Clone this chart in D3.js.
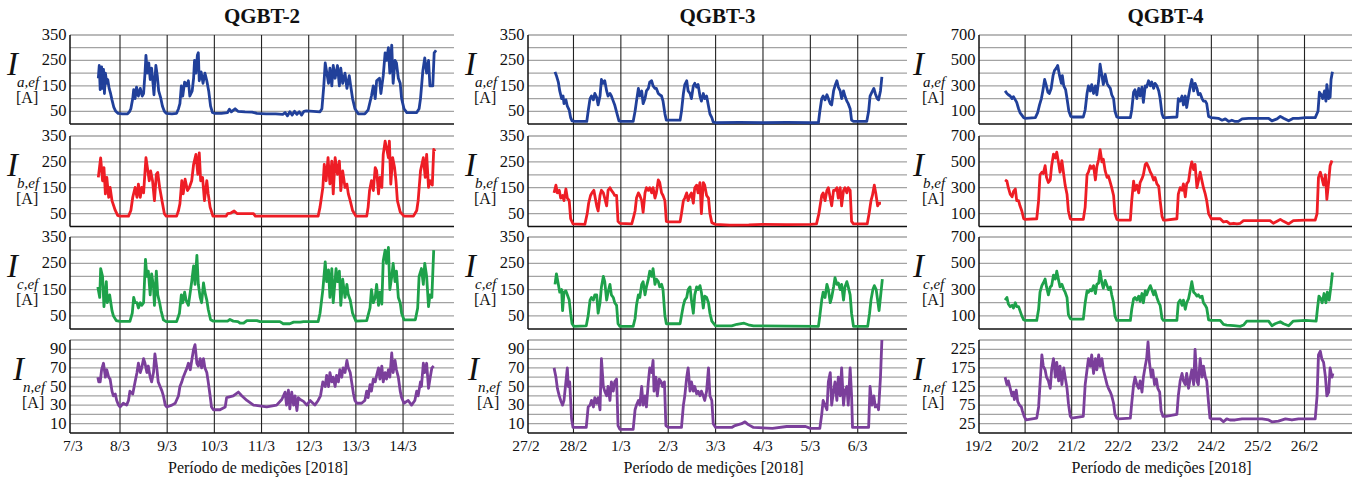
<!DOCTYPE html>
<html><head><meta charset="utf-8">
<script src="https://cdn.jsdelivr.net/npm/d3@7"></script>
<style>
body{margin:0;background:#fff}
svg{display:block}
text{font-family:"Liberation Serif","Times New Roman",serif;fill:#111}
</style>
</head><body>
<svg id="c" width="1363" height="481"></svg>
<script>
// ---------------- categories / tick labels ----------------
const titles = ["QGBT-2", "QGBT-3", "QGBT-4"];
const dates2 = ["7/3","8/3","9/3","10/3","11/3","12/3","13/3","14/3"];
const dates3 = ["27/2","28/2","1/3","2/3","3/3","4/3","5/3","6/3"];
const dates4 = ["19/2","20/2","21/2","22/2","23/2","24/2","25/2","26/2"];
const ticks350 = [50,150,250,350];
const ticks700 = [100,300,500,700];
const ticksIn100 = [10,30,50,70,90];
const ticksIn250 = [25,75,125,175,225];
const phaseNames = ["a","b","c","n"];
const xTitle = "Período de medições [2018]";

// ---------------- series: [day since first label, current A] ----------------
const qgbt2Ia = [[0.54,180],[0.56,230],[0.58,135],[0.61,225],[0.63,140],[0.65,215],[0.67,120],[0.69,200],[0.72,160],[0.74,175],[0.77,140],[0.80,120],[0.83,95],[0.87,65],[0.91,50],[0.96,42],[1.05,40],[1.16,40],[1.20,48],[1.23,60],[1.27,100],[1.29,135],[1.32,100],[1.35,145],[1.39,110],[1.43,140],[1.47,110],[1.50,120],[1.53,200],[1.55,270],[1.58,200],[1.61,240],[1.64,175],[1.67,220],[1.70,160],[1.72,115],[1.76,230],[1.79,190],[1.82,130],[1.86,105],[1.90,70],[1.94,50],[1.98,42],[2.10,40],[2.20,42],[2.24,60],[2.27,80],[2.30,150],[2.33,110],[2.37,165],[2.41,150],[2.45,170],[2.48,110],[2.53,130],[2.56,180],[2.58,250],[2.61,200],[2.64,270],[2.66,280],[2.68,170],[2.72,205],[2.76,160],[2.80,200],[2.84,170],[2.88,130],[2.92,70],[2.96,45],[3.00,42],[3.15,42],[3.28,45],[3.32,58],[3.36,48],[3.44,60],[3.50,50],[3.65,48],[3.80,47],[3.90,42],[4.10,40],[4.30,40],[4.45,38],[4.50,45],[4.55,32],[4.60,48],[4.65,35],[4.70,50],[4.75,38],[4.80,48],[4.85,35],[4.90,50],[4.95,52],[5.10,50],[5.24,48],[5.28,60],[5.32,150],[5.35,240],[5.42,160],[5.45,220],[5.49,150],[5.52,230],[5.56,180],[5.61,230],[5.65,150],[5.68,220],[5.72,160],[5.77,200],[5.81,140],[5.86,190],[5.89,150],[5.93,100],[5.98,60],[6.05,40],[6.19,40],[6.26,55],[6.33,110],[6.37,150],[6.41,100],[6.44,170],[6.50,180],[6.53,120],[6.58,190],[6.62,280],[6.65,250],[6.69,300],[6.72,200],[6.76,310],[6.79,160],[6.83,250],[6.86,240],[6.90,180],[6.94,160],[6.97,100],[7.02,60],[7.08,45],[7.29,45],[7.34,60],[7.37,100],[7.42,210],[7.46,260],[7.50,200],[7.54,250],[7.57,150],[7.63,150],[7.66,280],[7.70,290]];
const qgbt2Ib = [[0.54,190],[0.59,265],[0.63,177],[0.66,228],[0.69,126],[0.72,190],[0.76,113],[0.79,151],[0.83,100],[0.90,62],[0.95,43],[1.00,40],[1.18,40],[1.23,62],[1.27,113],[1.32,151],[1.36,113],[1.39,164],[1.43,113],[1.46,151],[1.50,130],[1.55,266],[1.58,228],[1.62,177],[1.65,215],[1.69,177],[1.73,100],[1.77,202],[1.80,209],[1.84,151],[1.89,100],[1.94,50],[1.98,40],[2.20,40],[2.24,62],[2.27,88],[2.31,177],[2.34,126],[2.38,183],[2.43,139],[2.47,151],[2.52,177],[2.56,240],[2.61,279],[2.65,202],[2.68,285],[2.71,177],[2.75,190],[2.79,100],[2.84,177],[2.87,126],[2.91,75],[2.97,40],[3.25,40],[3.28,50],[3.35,52],[3.42,60],[3.48,50],[3.83,50],[3.87,40],[5.20,40],[5.24,75],[5.30,151],[5.33,240],[5.37,177],[5.41,266],[5.45,165],[5.49,253],[5.52,126],[5.56,266],[5.61,202],[5.65,253],[5.68,139],[5.72,215],[5.77,151],[5.81,164],[5.84,126],[5.88,100],[5.93,62],[6.00,40],[6.23,40],[6.26,75],[6.29,139],[6.33,177],[6.37,139],[6.41,228],[6.44,215],[6.48,126],[6.51,190],[6.55,151],[6.58,279],[6.62,330],[6.65,304],[6.69,266],[6.71,330],[6.74,164],[6.78,266],[6.82,228],[6.85,177],[6.88,100],[6.94,56],[7.02,40],[7.22,40],[7.29,62],[7.32,100],[7.37,215],[7.43,266],[7.47,190],[7.50,279],[7.54,151],[7.57,177],[7.62,160],[7.65,298],[7.68,291]];
const qgbt2Ic = [[0.53,160],[0.57,120],[0.59,230],[0.63,200],[0.66,85],[0.71,180],[0.73,100],[0.78,130],[0.83,70],[0.86,50],[0.92,32],[1.00,29],[1.21,29],[1.26,60],[1.29,120],[1.32,100],[1.36,100],[1.39,80],[1.43,100],[1.46,90],[1.50,100],[1.54,265],[1.57,200],[1.60,220],[1.64,130],[1.67,210],[1.71,160],[1.73,90],[1.77,220],[1.80,130],[1.84,100],[1.87,70],[1.92,35],[1.98,28],[2.20,28],[2.26,60],[2.30,130],[2.33,100],[2.37,140],[2.40,110],[2.45,90],[2.52,180],[2.56,240],[2.59,170],[2.63,280],[2.66,170],[2.70,120],[2.73,100],[2.77,175],[2.80,140],[2.84,110],[2.87,75],[2.92,35],[2.98,30],[3.28,30],[3.33,36],[3.40,30],[3.50,28],[3.55,22],[3.62,22],[3.69,32],[3.90,32],[3.97,28],[4.39,28],[4.46,20],[4.60,20],[4.68,26],[4.82,26],[4.89,28],[5.20,28],[5.24,60],[5.30,150],[5.35,255],[5.38,180],[5.42,225],[5.45,120],[5.49,230],[5.52,100],[5.58,230],[5.61,180],[5.65,220],[5.68,90],[5.72,190],[5.77,120],[5.81,170],[5.84,130],[5.88,110],[5.93,60],[6.00,30],[6.23,32],[6.30,80],[6.33,150],[6.37,100],[6.41,120],[6.44,170],[6.48,90],[6.51,140],[6.55,95],[6.58,260],[6.62,300],[6.65,250],[6.69,310],[6.72,150],[6.76,200],[6.79,250],[6.83,180],[6.86,220],[6.90,120],[6.94,100],[6.97,60],[7.02,35],[7.26,35],[7.31,80],[7.34,200],[7.39,230],[7.43,170],[7.46,250],[7.50,200],[7.54,85],[7.57,130],[7.61,120],[7.65,300]];
const qgbt2In = [[0.53,60],[0.55,55],[0.58,55],[0.61,68],[0.65,75],[0.69,60],[0.72,68],[0.76,60],[0.79,58],[0.83,45],[0.86,40],[0.90,42],[0.93,35],[0.97,30],[1.00,28],[1.07,32],[1.14,30],[1.18,35],[1.21,45],[1.27,42],[1.32,55],[1.36,65],[1.39,75],[1.43,65],[1.46,70],[1.50,80],[1.53,75],[1.57,65],[1.60,72],[1.64,60],[1.67,55],[1.71,65],[1.74,85],[1.78,70],[1.81,55],[1.85,50],[1.89,45],[1.92,40],[1.96,30],[1.99,28],[2.10,30],[2.17,32],[2.24,40],[2.27,50],[2.31,55],[2.34,60],[2.38,65],[2.42,70],[2.45,75],[2.49,68],[2.52,78],[2.56,90],[2.59,95],[2.63,75],[2.66,72],[2.70,80],[2.73,70],[2.77,80],[2.80,70],[2.84,65],[2.87,55],[2.91,40],[2.94,28],[2.98,25],[3.12,25],[3.23,28],[3.26,38],[3.40,40],[3.51,44],[3.58,40],[3.69,35],[3.83,30],[4.11,28],[4.32,30],[4.43,36],[4.50,44],[4.53,30],[4.57,46],[4.60,26],[4.64,44],[4.68,30],[4.71,40],[4.75,24],[4.78,38],[4.82,36],[4.89,34],[4.96,30],[5.03,35],[5.13,30],[5.20,35],[5.25,40],[5.30,55],[5.35,50],[5.38,62],[5.42,50],[5.45,65],[5.49,55],[5.52,60],[5.56,50],[5.59,62],[5.63,55],[5.66,68],[5.70,60],[5.73,70],[5.77,65],[5.81,78],[5.84,70],[5.88,65],[5.91,55],[5.95,42],[5.98,35],[6.02,32],[6.12,32],[6.19,35],[6.23,45],[6.26,38],[6.30,52],[6.33,45],[6.37,58],[6.41,55],[6.44,62],[6.48,70],[6.51,58],[6.55,72],[6.58,55],[6.62,65],[6.65,58],[6.69,68],[6.72,60],[6.76,86],[6.79,65],[6.83,78],[6.86,68],[6.90,60],[6.94,45],[6.97,38],[7.02,32],[7.11,35],[7.18,30],[7.25,35],[7.29,45],[7.32,40],[7.37,55],[7.39,50],[7.43,75],[7.46,65],[7.50,75],[7.54,48],[7.57,58],[7.61,70],[7.65,72]];

const qgbt3Ia = [[0.61,205],[0.64,190],[0.68,165],[0.71,130],[0.75,100],[0.78,110],[0.80,80],[0.84,95],[0.87,70],[0.91,55],[0.94,25],[0.97,12],[1.03,10],[1.28,10],[1.31,50],[1.35,100],[1.38,110],[1.42,95],[1.45,120],[1.49,105],[1.52,75],[1.56,110],[1.59,175],[1.63,160],[1.66,170],[1.70,130],[1.73,110],[1.77,120],[1.80,110],[1.84,90],[1.87,75],[1.92,40],[1.96,12],[2.00,10],[2.26,10],[2.30,50],[2.33,90],[2.37,140],[2.40,110],[2.44,130],[2.47,80],[2.51,100],[2.54,130],[2.58,140],[2.61,165],[2.65,170],[2.68,150],[2.72,140],[2.75,140],[2.79,120],[2.82,115],[2.86,110],[2.89,90],[2.93,40],[2.96,15],[3.00,15],[3.25,15],[3.28,50],[3.32,120],[3.35,155],[3.39,170],[3.42,130],[3.46,120],[3.49,100],[3.53,150],[3.56,160],[3.60,145],[3.63,155],[3.67,110],[3.70,90],[3.74,120],[3.77,100],[3.81,110],[3.85,70],[3.88,40],[3.92,25],[3.95,8],[4.00,5],[4.50,6],[5.00,5],[5.50,6],[6.00,5],[6.17,5],[6.20,50],[6.24,100],[6.27,110],[6.31,95],[6.35,115],[6.38,100],[6.42,80],[6.45,75],[6.49,130],[6.52,150],[6.56,170],[6.59,145],[6.63,130],[6.66,100],[6.70,130],[6.73,110],[6.77,90],[6.80,80],[6.84,60],[6.87,15],[6.91,10],[7.19,10],[7.23,50],[7.26,110],[7.30,125],[7.34,140],[7.37,120],[7.41,100],[7.44,95],[7.48,130],[7.51,185]];
const qgbt3Ib = [[0.59,130],[0.63,160],[0.66,130],[0.70,140],[0.73,110],[0.77,120],[0.80,100],[0.84,145],[0.87,110],[0.91,100],[0.94,30],[0.99,10],[1.24,8],[1.29,50],[1.32,90],[1.36,120],[1.39,130],[1.43,140],[1.45,120],[1.49,80],[1.52,60],[1.56,120],[1.59,140],[1.63,130],[1.66,110],[1.70,80],[1.73,140],[1.77,150],[1.80,140],[1.84,130],[1.87,120],[1.91,120],[1.94,20],[1.98,12],[2.23,10],[2.26,30],[2.30,60],[2.33,110],[2.37,130],[2.40,120],[2.44,100],[2.47,55],[2.51,130],[2.54,150],[2.58,140],[2.61,150],[2.65,130],[2.68,150],[2.72,110],[2.75,130],[2.79,180],[2.82,170],[2.86,130],[2.89,120],[2.93,100],[2.96,20],[3.00,18],[3.25,18],[3.28,50],[3.32,100],[3.35,110],[3.39,130],[3.42,100],[3.46,120],[3.49,130],[3.53,90],[3.56,150],[3.60,160],[3.63,130],[3.67,170],[3.70,50],[3.74,170],[3.77,160],[3.81,120],[3.85,110],[3.88,50],[3.92,15],[4.00,8],[4.30,5],[4.70,6],[5.00,8],[5.50,7],[6.00,8],[6.13,10],[6.18,50],[6.24,120],[6.27,130],[6.31,100],[6.35,140],[6.38,150],[6.42,110],[6.45,80],[6.49,140],[6.52,140],[6.56,150],[6.59,110],[6.63,150],[6.66,80],[6.70,140],[6.73,150],[6.77,130],[6.80,150],[6.84,140],[6.87,20],[6.91,10],[7.20,10],[7.24,50],[7.28,100],[7.31,120],[7.35,160],[7.38,130],[7.42,80],[7.45,90],[7.49,90]];
const qgbt3Ic = [[0.61,170],[0.64,210],[0.68,170],[0.71,140],[0.75,150],[0.77,70],[0.80,140],[0.84,145],[0.87,130],[0.91,110],[0.94,60],[0.97,20],[1.01,10],[1.27,12],[1.31,50],[1.35,110],[1.38,120],[1.42,110],[1.45,130],[1.49,130],[1.52,60],[1.56,100],[1.59,160],[1.63,200],[1.66,180],[1.70,110],[1.73,140],[1.77,170],[1.80,130],[1.84,120],[1.87,100],[1.91,90],[1.94,20],[1.98,10],[2.26,10],[2.30,40],[2.33,90],[2.37,130],[2.40,120],[2.44,170],[2.47,180],[2.51,130],[2.54,160],[2.58,190],[2.61,220],[2.65,200],[2.68,230],[2.72,170],[2.75,190],[2.79,180],[2.82,160],[2.86,170],[2.89,150],[2.93,50],[2.96,20],[3.00,20],[3.25,20],[3.28,50],[3.32,90],[3.35,110],[3.39,120],[3.42,150],[3.46,160],[3.49,110],[3.53,60],[3.56,130],[3.60,160],[3.63,150],[3.67,165],[3.70,140],[3.74,80],[3.77,125],[3.81,120],[3.85,100],[3.88,60],[3.92,30],[4.00,12],[4.34,12],[4.45,18],[4.60,22],[4.69,16],[4.80,12],[5.50,11],[6.17,10],[6.20,50],[6.24,110],[6.27,140],[6.31,120],[6.35,170],[6.38,150],[6.42,100],[6.45,120],[6.49,160],[6.52,195],[6.56,170],[6.59,175],[6.63,150],[6.66,170],[6.70,110],[6.73,160],[6.77,180],[6.80,160],[6.84,130],[6.87,60],[6.91,10],[7.21,10],[7.25,60],[7.28,110],[7.32,150],[7.35,165],[7.39,150],[7.42,110],[7.45,70],[7.48,120],[7.52,190]];
const qgbt3In = [[0.59,70],[0.63,60],[0.66,48],[0.70,40],[0.73,35],[0.77,30],[0.80,35],[0.84,55],[0.87,70],[0.89,50],[0.92,55],[0.94,35],[0.96,15],[0.99,6],[1.27,6],[1.31,28],[1.35,30],[1.38,35],[1.42,28],[1.45,38],[1.49,32],[1.52,38],[1.56,25],[1.59,80],[1.63,50],[1.66,45],[1.70,40],[1.73,50],[1.77,35],[1.80,55],[1.84,45],[1.87,55],[1.91,58],[1.94,8],[1.98,4],[2.26,4],[2.30,25],[2.33,30],[2.37,35],[2.40,30],[2.44,50],[2.47,30],[2.51,40],[2.54,28],[2.58,55],[2.61,70],[2.65,65],[2.68,78],[2.70,45],[2.74,60],[2.77,40],[2.81,58],[2.85,55],[2.88,50],[2.92,55],[2.95,8],[3.00,6],[3.28,6],[3.32,30],[3.35,40],[3.39,60],[3.42,70],[3.46,45],[3.49,55],[3.53,45],[3.56,50],[3.60,42],[3.63,45],[3.67,40],[3.70,45],[3.74,40],[3.77,35],[3.81,45],[3.85,70],[3.88,40],[3.92,35],[3.95,10],[4.00,6],[4.34,6],[4.41,8],[4.55,10],[4.62,12],[4.69,9],[4.80,6],[5.20,5],[5.50,7],[5.90,7],[6.00,5],[6.20,5],[6.24,20],[6.27,35],[6.31,30],[6.35,25],[6.38,55],[6.42,65],[6.45,30],[6.49,45],[6.52,55],[6.56,35],[6.59,60],[6.63,40],[6.66,70],[6.70,30],[6.73,45],[6.77,50],[6.80,30],[6.84,70],[6.87,40],[6.89,6],[7.23,6],[7.26,50],[7.30,30],[7.34,40],[7.37,28],[7.41,30],[7.44,25],[7.48,60],[7.51,100]];

const qgbt4Ia = [[0.57,260],[0.61,240],[0.64,230],[0.68,220],[0.72,200],[0.75,215],[0.79,190],[0.82,170],[0.86,120],[0.89,90],[0.93,70],[0.97,50],[1.00,45],[1.22,50],[1.27,90],[1.31,150],[1.35,200],[1.38,260],[1.42,350],[1.45,310],[1.49,250],[1.52,240],[1.56,280],[1.60,380],[1.63,420],[1.67,440],[1.70,460],[1.74,380],[1.78,320],[1.80,380],[1.83,300],[1.87,270],[1.90,200],[1.94,100],[1.98,60],[2.02,55],[2.25,55],[2.29,110],[2.33,240],[2.36,300],[2.40,260],[2.43,310],[2.47,240],[2.51,300],[2.54,230],[2.58,340],[2.61,470],[2.65,380],[2.68,310],[2.72,390],[2.76,320],[2.79,300],[2.83,280],[2.86,230],[2.90,200],[2.93,100],[2.97,55],[3.01,50],[3.26,50],[3.29,110],[3.33,250],[3.36,270],[3.40,200],[3.44,280],[3.47,220],[3.51,290],[3.54,170],[3.58,300],[3.61,290],[3.65,340],[3.69,300],[3.72,330],[3.76,280],[3.79,320],[3.83,300],[3.87,260],[3.90,200],[3.94,80],[3.97,50],[4.02,50],[4.26,55],[4.29,200],[4.33,180],[4.37,220],[4.40,150],[4.44,220],[4.47,130],[4.51,220],[4.55,300],[4.58,350],[4.62,260],[4.65,320],[4.69,280],[4.72,230],[4.76,240],[4.80,200],[4.83,180],[4.87,180],[4.90,160],[4.94,60],[5.00,50],[5.15,45],[5.23,30],[5.30,40],[5.37,20],[5.44,30],[5.51,20],[5.58,20],[5.66,40],[5.80,45],[6.01,45],[6.23,45],[6.30,25],[6.41,40],[6.48,60],[6.55,45],[6.66,25],[6.76,45],[6.87,45],[7.02,50],[7.23,50],[7.29,100],[7.32,250],[7.36,230],[7.39,200],[7.43,260],[7.46,180],[7.48,310],[7.52,200],[7.55,210],[7.57,350],[7.60,410]];
const qgbt4Ib = [[0.57,360],[0.61,350],[0.64,300],[0.68,250],[0.72,230],[0.75,270],[0.79,290],[0.82,200],[0.86,200],[0.89,160],[0.93,120],[0.97,60],[1.00,55],[1.25,60],[1.29,200],[1.32,400],[1.36,420],[1.39,410],[1.43,470],[1.46,380],[1.50,340],[1.54,360],[1.57,470],[1.61,560],[1.65,530],[1.68,575],[1.72,490],[1.75,420],[1.79,510],[1.83,400],[1.86,320],[1.90,250],[1.93,120],[1.97,60],[2.00,55],[2.25,55],[2.29,150],[2.33,400],[2.36,420],[2.40,470],[2.43,450],[2.47,470],[2.51,360],[2.54,460],[2.58,520],[2.61,595],[2.65,500],[2.68,520],[2.72,430],[2.76,380],[2.79,390],[2.83,340],[2.86,300],[2.90,240],[2.93,100],[2.97,55],[3.01,50],[3.26,50],[3.29,200],[3.33,350],[3.36,280],[3.40,320],[3.44,260],[3.47,340],[3.51,370],[3.54,400],[3.58,480],[3.61,490],[3.65,460],[3.69,420],[3.72,400],[3.76,360],[3.79,380],[3.83,330],[3.87,310],[3.90,200],[3.94,80],[3.97,50],[4.02,50],[4.26,60],[4.29,250],[4.33,300],[4.37,280],[4.40,330],[4.44,230],[4.47,330],[4.51,350],[4.55,450],[4.58,500],[4.62,440],[4.65,480],[4.69,300],[4.72,350],[4.76,420],[4.80,350],[4.83,300],[4.87,250],[4.90,200],[4.94,100],[5.00,60],[5.19,60],[5.26,35],[5.33,40],[5.40,20],[5.48,25],[5.55,20],[5.62,25],[5.69,45],[6.01,45],[6.26,45],[6.33,25],[6.43,45],[6.48,55],[6.55,40],[6.66,20],[6.76,45],[7.02,50],[7.23,50],[7.27,100],[7.30,380],[7.34,420],[7.37,380],[7.41,320],[7.45,400],[7.48,210],[7.52,350],[7.55,470],[7.59,510]];
const qgbt4Ic = [[0.57,220],[0.61,240],[0.64,190],[0.68,170],[0.72,180],[0.75,160],[0.79,200],[0.82,170],[0.86,170],[0.89,140],[0.93,100],[0.97,70],[1.00,65],[1.25,65],[1.29,150],[1.32,280],[1.36,330],[1.39,350],[1.43,380],[1.46,320],[1.50,260],[1.54,320],[1.57,330],[1.61,410],[1.65,380],[1.68,440],[1.72,370],[1.75,320],[1.79,340],[1.83,300],[1.86,280],[1.90,240],[1.93,110],[1.97,80],[2.00,75],[2.25,75],[2.29,200],[2.33,290],[2.36,280],[2.40,300],[2.43,290],[2.47,330],[2.51,270],[2.54,340],[2.58,350],[2.61,440],[2.65,350],[2.68,310],[2.72,370],[2.76,330],[2.79,300],[2.83,320],[2.86,260],[2.90,200],[2.93,100],[2.97,65],[3.01,65],[3.26,65],[3.29,150],[3.33,230],[3.36,240],[3.40,220],[3.44,250],[3.47,210],[3.51,270],[3.54,200],[3.58,290],[3.61,260],[3.65,300],[3.69,330],[3.72,300],[3.76,260],[3.79,290],[3.83,240],[3.87,200],[3.90,180],[3.94,80],[3.97,65],[4.02,65],[4.26,65],[4.29,200],[4.33,220],[4.37,180],[4.40,220],[4.44,150],[4.47,200],[4.51,230],[4.55,300],[4.58,360],[4.62,280],[4.65,270],[4.69,250],[4.72,260],[4.76,240],[4.80,250],[4.83,200],[4.87,180],[4.90,160],[4.94,70],[5.00,65],[5.19,65],[5.26,35],[5.33,30],[5.48,25],[5.62,20],[5.69,30],[5.76,60],[6.01,60],[6.23,60],[6.30,25],[6.37,40],[6.48,55],[6.55,40],[6.66,25],[6.76,60],[7.02,65],[7.25,60],[7.28,160],[7.31,250],[7.35,230],[7.38,200],[7.42,270],[7.46,200],[7.49,280],[7.53,220],[7.57,330],[7.60,430]];
const qgbt4In = [[0.57,150],[0.61,130],[0.64,140],[0.68,120],[0.72,100],[0.75,110],[0.77,90],[0.81,115],[0.84,85],[0.88,75],[0.92,70],[0.94,60],[0.98,45],[1.02,35],[1.25,40],[1.29,70],[1.32,130],[1.36,210],[1.39,180],[1.43,170],[1.46,150],[1.50,140],[1.54,120],[1.57,170],[1.61,200],[1.65,150],[1.68,190],[1.72,140],[1.75,180],[1.79,130],[1.83,175],[1.86,150],[1.90,120],[1.93,80],[1.97,45],[2.00,40],[2.25,45],[2.29,130],[2.33,170],[2.36,200],[2.40,180],[2.43,210],[2.47,160],[2.51,200],[2.54,170],[2.58,210],[2.61,180],[2.65,200],[2.68,170],[2.72,150],[2.76,130],[2.79,120],[2.83,110],[2.86,100],[2.90,80],[2.93,50],[2.97,40],[3.01,38],[3.26,40],[3.29,80],[3.33,130],[3.36,150],[3.40,130],[3.44,120],[3.47,140],[3.51,110],[3.54,150],[3.58,180],[3.61,200],[3.64,245],[3.67,190],[3.71,150],[3.74,170],[3.78,130],[3.82,145],[3.85,120],[3.89,110],[3.92,60],[3.96,45],[4.02,45],[4.26,50],[4.29,100],[4.33,140],[4.37,160],[4.40,140],[4.44,130],[4.47,160],[4.51,120],[4.55,150],[4.58,170],[4.62,130],[4.65,225],[4.69,140],[4.72,130],[4.76,200],[4.80,150],[4.83,180],[4.87,150],[4.90,140],[4.94,80],[4.97,40],[5.00,38],[5.19,38],[5.26,30],[5.33,38],[5.40,35],[5.51,35],[5.66,38],[5.80,38],[5.95,38],[6.09,38],[6.23,35],[6.30,30],[6.44,32],[6.59,38],[6.73,35],[6.87,38],[7.02,38],[7.23,38],[7.27,100],[7.30,210],[7.34,220],[7.37,200],[7.41,190],[7.45,150],[7.48,100],[7.52,110],[7.55,175],[7.59,150],[7.61,160]];

// ---------------- layout ----------------
const svg = d3.select("#c");
const panelY = [[35,124],[136,226.5],[237,329],[340,433]];
const lineColors = ["#21409a","#ee1d25","#1ea14a","#7b3f9b"];
const gridColor = "#a3a3a3";

const columns = [
  {title: titles[0], dates: dates2, xr:[70,454], xd:[-0.06,8.08],
   series:[qgbt2Ia,qgbt2Ib,qgbt2Ic,qgbt2In], ymax:[350,350,350,100], ystep:[50,50,50,10],
   ticks:[ticks350,ticks350,ticks350,ticksIn100], labX:[7,7,7,13]},
  {title: titles[1], dates: dates3, xr:[528,907], xd:[0.04,8.04],
   series:[qgbt3Ia,qgbt3Ib,qgbt3Ic,qgbt3In], ymax:[350,350,350,100], ystep:[50,50,50,10],
   ticks:[ticks350,ticks350,ticks350,ticksIn100], labX:[465,465,465,468]},
  {title: titles[2], dates: dates4, xr:[979,1352], xd:[0.01,8.02],
   series:[qgbt4Ia,qgbt4Ib,qgbt4Ic,qgbt4In], ymax:[700,700,700,250], ystep:[100,100,100,25],
   ticks:[ticks700,ticks700,ticks700,ticksIn250], labX:[913,913,913,913]}
];

columns.forEach(col => {
  const g = svg.append("g");
  const x = d3.scaleLinear().domain(col.xd).range(col.xr);
  const cx = (col.xr[0]+col.xr[1])/2;

  g.append("text").attr("x", cx).attr("y", 23).attr("text-anchor","middle")
    .attr("font-weight","bold").attr("font-size", 21).text(col.title);

  col.panelScales = [];
  col.series.forEach((data, i) => {
    const [top, bot] = panelY[i];
    const y = d3.scaleLinear().domain([0, col.ymax[i]]).range([bot, top]);
    const gridVals = d3.range(col.ystep[i], col.ymax[i] + 0.001, col.ystep[i]);
    g.append("g").selectAll("line").data(gridVals).join("line")
      .attr("x1", col.xr[0]).attr("x2", col.xr[1])
      .attr("y1", d => y(d)).attr("y2", d => y(d))
      .attr("stroke", gridColor).attr("stroke-width", 1.3);
    g.append("g").selectAll("text").data(col.ticks[i]).join("text")
      .attr("x", col.xr[0] - 3.5).attr("y", d => y(d) + 5)
      .attr("text-anchor","end").attr("font-size", 16.5).text(d => d);
    const lx = col.labX[i];
    g.append("text").attr("x", lx).attr("y", top + 40)
      .attr("font-style","italic").attr("font-size", 33).text("I");
    g.append("text").attr("x", lx + 10).attr("y", top + 52)
      .attr("font-style","italic").attr("font-size", 15).text(phaseNames[i] + ",ef");
    g.append("text").attr("x", lx + 9).attr("y", top + 67.5)
      .attr("font-size", 16).text("[A]");
    col.panelScales.push(y);
  });

  g.append("g").selectAll("line").data(d3.range(1, 8)).join("line")
    .attr("x1", d => x(d)).attr("x2", d => x(d))
    .attr("y1", panelY[0][0]).attr("y2", panelY[3][1])
    .attr("stroke", "#222").attr("stroke-width", 1.1);

  panelY.forEach(([top, bot]) => {
    g.append("line").attr("x1", col.xr[0]).attr("x2", col.xr[0]).attr("y1", top).attr("y2", bot)
      .attr("stroke","#111").attr("stroke-width",1.5);
    g.append("line").attr("x1", col.xr[0]).attr("x2", col.xr[1]).attr("y1", bot).attr("y2", bot)
      .attr("stroke","#111").attr("stroke-width",1.5);
  });

  col.series.forEach((data, i) => {
    const y = col.panelScales[i];
    const line = d3.line().x(d => x(d[0])).y(d => y(d[1]));
    g.append("path").datum(data).attr("d", line)
      .attr("fill","none").attr("stroke", lineColors[i])
      .attr("stroke-width", 2.8).attr("stroke-linejoin","round");
  });

  g.append("g").selectAll("text").data(col.dates).join("text")
    .attr("x", (d, k) => x(k)).attr("y", 451)
    .attr("text-anchor","middle").attr("font-size", 15.5).text(d => d);

  g.append("text").attr("x", cx - 4).attr("y", 473).attr("text-anchor","middle")
    .attr("font-size", 16).text(xTitle);
});
</script>
</body></html>
